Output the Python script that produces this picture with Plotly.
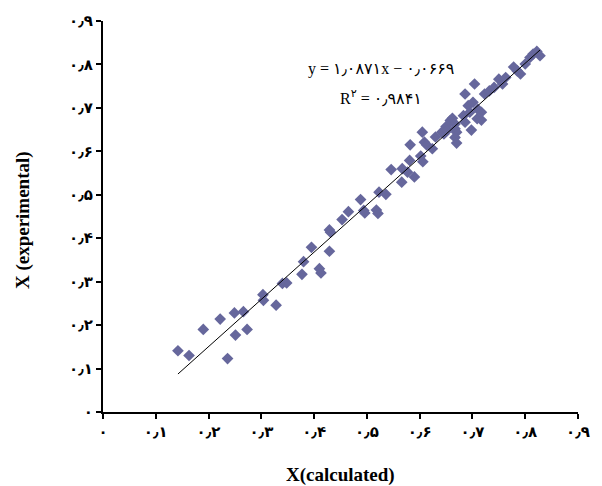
import plotly.graph_objects as go
import numpy as np

# Data
x_calc = [0.142, 0.163, 0.190, 0.222, 0.236, 0.249, 0.251, 0.266, 0.273, 0.303,
          0.304, 0.328, 0.340, 0.348, 0.377, 0.380, 0.395, 0.410, 0.413, 0.429,
          0.429, 0.431, 0.453, 0.465, 0.488, 0.494, 0.496, 0.518, 0.521, 0.523,
          0.536, 0.546, 0.566, 0.567, 0.577, 0.581, 0.590, 0.602, 0.606, 0.582,
          0.605, 0.609, 0.613, 0.624, 0.630, 0.646, 0.650, 0.642, 0.652, 0.658,
          0.662, 0.667, 0.667, 0.670, 0.667, 0.670, 0.683, 0.686, 0.695, 0.698,
          0.709, 0.717, 0.686, 0.704, 0.692, 0.701, 0.710, 0.717, 0.723, 0.732,
          0.741, 0.750, 0.757, 0.763, 0.778, 0.785, 0.791, 0.800, 0.809, 0.815,
          0.822, 0.828]
y_exp = [0.141, 0.130, 0.190, 0.214, 0.123, 0.228, 0.177, 0.231, 0.190, 0.270,
         0.257, 0.246, 0.296, 0.297, 0.317, 0.346, 0.379, 0.330, 0.320, 0.370,
         0.419, 0.414, 0.443, 0.461, 0.489, 0.464, 0.458, 0.465, 0.457, 0.506,
         0.501, 0.558, 0.529, 0.560, 0.552, 0.579, 0.541, 0.589, 0.576, 0.615,
         0.644, 0.621, 0.615, 0.606, 0.633, 0.640, 0.657, 0.644, 0.648, 0.671,
         0.676, 0.663, 0.652, 0.644, 0.632, 0.619, 0.682, 0.667, 0.690, 0.649,
         0.675, 0.672, 0.732, 0.755, 0.705, 0.713, 0.697, 0.690, 0.732, 0.739,
         0.747, 0.766, 0.755, 0.770, 0.794, 0.785, 0.778, 0.801, 0.816, 0.824,
         0.830, 0.820]

slope = 1.0871
intercept = -0.0669
r_squared_text = "۰٫۹۸۴۱"
equation_text = "y = ۱٫۰۸۷۱x − ۰٫۰۶۶۹"

tick_vals = [0, 0.1, 0.2, 0.3, 0.4, 0.5, 0.6, 0.7, 0.8, 0.9]
tick_text = ["۰", "۰٫۱", "۰٫۲", "۰٫۳", "۰٫۴", "۰٫۵", "۰٫۶", "۰٫۷", "۰٫۸", "۰٫۹"]

x_title = "X(calculated)"
y_title = "X (experimental)"

marker_color = "#66679c"

fig = go.Figure()
fig.add_trace(go.Scatter(
    x=x_calc, y=y_exp, mode="markers",
    marker=dict(symbol="diamond", size=9, color=marker_color, line=dict(width=0)),
    showlegend=False,
))

xl = np.array([min(x_calc), max(x_calc)])
fig.add_trace(go.Scatter(
    x=xl, y=slope * xl + intercept, mode="lines",
    line=dict(color="black", width=1), showlegend=False,
))

tickfont = dict(family="DejaVu Sans", size=15, color="black")
axis_common = dict(
    range=[0, 0.9], tickmode="array", tickvals=tick_vals,
    ticktext=["<b>%s</b>" % t for t in tick_text],
    showgrid=False, zeroline=False, showline=True, linecolor="black", linewidth=2,
    ticks="outside", ticklen=5, tickwidth=1.5, tickcolor="black",
    tickfont=tickfont,
)
fig.update_xaxes(**axis_common)
fig.update_yaxes(**axis_common)

fig.update_layout(
    width=602, height=486,
    margin=dict(l=103, r=13, t=20, b=74),
    plot_bgcolor="white", paper_bgcolor="white",
    annotations=[
        dict(text="<b>%s</b>" % x_title, xref="paper", yref="paper",
             x=0.5, y=-0.16, xanchor="center", yanchor="middle", showarrow=False,
             font=dict(family="Liberation Serif", size=19, color="black")),
        dict(text="<b>%s</b>" % y_title, xref="paper", yref="paper",
             x=-0.167, y=0.49, xanchor="center", yanchor="middle", showarrow=False,
             textangle=-90,
             font=dict(family="Liberation Serif", size=19, color="black")),
        dict(text=equation_text, xref="paper", yref="paper",
             x=(388 - 103.3) / 485.7, y=(412.3 - 68) / 392.3,
             xanchor="center", yanchor="middle", showarrow=False,
             font=dict(family="Liberation Serif, DejaVu Sans", size=16, color="black")),
        dict(text="R<sup>۲</sup> = " + r_squared_text, xref="paper", yref="paper",
             x=(388 - 103.3) / 485.7, y=(412.3 - 96) / 392.3,
             xanchor="center", yanchor="middle", showarrow=False,
             font=dict(family="Liberation Serif, DejaVu Sans", size=16, color="black")),
    ],
)

fig.write_html("out.html", config={"displayModeBar": False},
               post_script="document.body.style.margin='0px';document.body.style.padding='0px';")
